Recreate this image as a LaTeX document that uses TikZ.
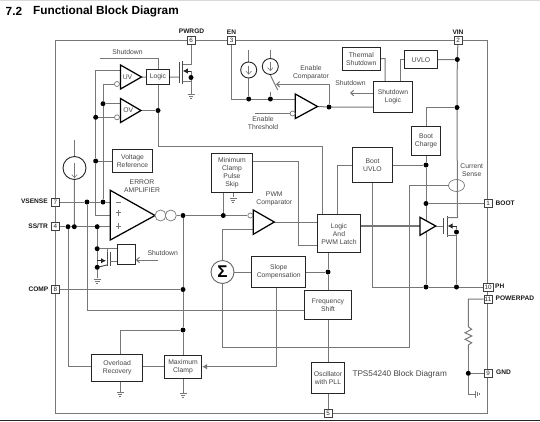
\documentclass[tikz,border=0pt]{standalone}
\usepackage{fontspec}
\setmainfont{Liberation Sans}
\usetikzlibrary{arrows.meta,backgrounds,shapes.geometric}
\definecolor{wirec}{HTML}{777777}
\definecolor{txtc}{HTML}{454545}
\tikzset{
  wire/.style={draw=wirec,line width=1pt},
  blk/.style={draw=black!85,line width=1.05pt,fill=white,align=center,inner sep=0pt,font=\fontsize{6.8}{8}\selectfont,text=txtc},
  tri/.style={draw=black,line width=1.25pt,fill=white,line join=miter},
  fetl/.style={draw=black!70,line width=1pt},
  pinb/.style={draw=black!75,line width=0.7pt,fill=white,inner sep=0pt,minimum width=8pt,minimum height=8pt,font=\fontsize{6.3}{7}\selectfont,text=black!85},
  pinl/.style={font=\bfseries\fontsize{6.6}{8}\selectfont,text=black!90,inner sep=0pt},
  lbl/.style={font=\fontsize{6.8}{8}\selectfont,text=txtc,align=center,inner sep=0pt},
  jdot/.style={circle,fill=black,inner sep=0pt,minimum size=5pt},
  bub/.style={circle,draw=wirec,line width=0.7pt,fill=white,inner sep=0pt,minimum size=5pt},
  csrc/.style={circle,draw=black!85,line width=0.9pt,fill=white,inner sep=0pt},
  barb/.style={-{Straight Barb[length=3pt,width=5.5pt]}},
  fettip/.style={draw=black!85,line width=1pt,-{Latex[length=5pt,width=5.5pt]}},
  gndsym/.pic={\draw[wirec,line width=0.7pt] (-3.5,0)--(3.5,0) (-2.3,2)--(2.3,2) (-1,4)--(1,4);}
}
\begin{document}
\begin{tikzpicture}[x=1pt,y=-1pt]
\useasboundingbox (0,0) rectangle (540,421);
\fill[black!15] (0,0) rectangle (540,1);
\fill[black!85] (0,420) rectangle (540,421);
% title
\node[anchor=west,inner sep=0pt,font=\bfseries\fontsize{11.8}{13}\selectfont] (ttlnum) at (5.5,11) {7.2};
\node[anchor=west,inner sep=0pt,font=\bfseries\fontsize{11.8}{13}\selectfont] (ttl) at (33,11) {Functional Block Diagram};
% pins
\node[pinb] (p6) at (191,40.5) {6};
\node[pinb] (p3) at (231.5,40.5) {3};
\node[pinb] (p2) at (458,40.5) {2};
\node[pinb] (p7) at (55.5,202) {7};
\node[pinb] (p4) at (55.5,226.7) {4};
\node[pinb] (p8) at (55.5,289.5) {8};
\node[pinb] (p1) at (488,203.5) {1};
\node[pinb,minimum width=10pt] (p10) at (488,287) {10};
\node[pinb,minimum width=8pt] (p11) at (488,299) {11};
\node[pinb] (p9) at (488,373.3) {9};
\node[pinb] (p5) at (328,413) {5};
\node[pinl] (lpw) at (191.5,31.5) {PWRGD};
\node[pinl] (len) at (231.5,32) {EN};
\node[pinl] (lvin) at (458,32) {VIN};
\node[pinl,anchor=east] (lvs) at (48,201.5) {VSENSE};
\node[pinl,anchor=east] (lss) at (48,226.5) {SS/TR};
\node[pinl,anchor=east] (lcomp) at (48.5,289.5) {COMP};
\node[pinl,anchor=west] (lboot) at (495.5,203.5) {BOOT};
\node[pinl,anchor=west] (lph) at (495,286) {PH};
\node[pinl,anchor=west] (lpp) at (495.5,298.5) {POWERPAD};
\node[pinl,anchor=west] (lgnd) at (496,372.5) {GND};
% blocks
\node[blk,minimum width=23pt,minimum height=15.5pt] (lg1) at (158,77.2) {Logic};
\node[blk,minimum width=40pt,minimum height=22.5pt] (vref) at (132.5,161) {Voltage\\Reference};
\node[blk,minimum width=41pt,minimum height=39pt,line width=0.95pt] (minc) at (232,173) {Minimum\\Clamp\\Pulse\\Skip};
\node[blk,minimum width=43pt,minimum height=38.5pt] (latch) at (339,233.7) {Logic\\And\\PWM Latch};
\node[blk,minimum width=39.5pt,minimum height=35pt] (buv) at (372.5,165) {Boot\\UVLO};
\node[blk,minimum width=29pt,minimum height=28.5pt] (bch) at (426,140.8) {Boot\\Charge};
\node[blk,minimum width=37.5pt,minimum height=22.5pt] (ths) at (361.3,58.8) {Thermal\\Shutdown};
\node[blk,minimum width=32.8pt,minimum height=18.5pt] (uvlo) at (421,59.7) {UVLO};
\node[blk,minimum width=39.7pt,minimum height=31pt] (sdl) at (393,97) {Shutdown\\Logic};
\node[blk,minimum width=54.5pt,minimum height=31pt] (slope) at (278.7,272) {Slope\\Compensation};
\node[blk,minimum width=46.5pt,minimum height=29.5pt] (fs) at (328,305.2) {Frequency\\Shift};
\node[blk,minimum width=32.3pt,minimum height=31.5pt] (osc) at (328,378.2) {Oscillator\\with PLL};
\node[blk,minimum width=51.5pt,minimum height=27pt] (ovr) at (117.2,368) {Overload\\Recovery};
\node[blk,minimum width=37pt,minimum height=23pt] (mxc) at (183,366.7) {Maximum\\Clamp};
\node[blk,minimum width=17.7pt,minimum height=19.5pt] (sdb) at (126.8,254.5) {};
% sigma and sources
\node[csrc,minimum size=23pt,draw=black!60] (sig) at (222.5,272) {\bfseries\fontsize{17}{17}\selectfont Σ};
\node[csrc,minimum size=23pt,fill=none] (cs1) at (74.5,168) {};
\node[csrc,minimum size=16pt,fill=none] (cs2) at (248.7,70) {};
\node[csrc,minimum size=16pt,fill=none] (cs3) at (270.3,66.5) {};
\node[draw=wirec,line width=0.7pt,ellipse,minimum width=16pt,minimum height=12pt,inner sep=0pt,fill=none] (cur) at (456.5,185.5) {};
% amp geometry
\coordinate (uvT) at (120.5,65); \coordinate (uvB) at (120.5,89); \coordinate (uvO) at (141.5,77);
\coordinate (ovT) at (120.5,98.5); \coordinate (ovB) at (120.5,122.5); \coordinate (ovO) at (141,110.5);
\coordinate (eaT) at (110.3,190.3); \coordinate (eaB) at (110.3,240); \coordinate (eaO) at (155,215.5);
\coordinate (pwT) at (253.3,210); \coordinate (pwB) at (253.3,234.3); \coordinate (pwO) at (274.3,222);
\coordinate (enT) at (295.3,94); \coordinate (enB) at (295.3,118.5); \coordinate (enO) at (317.5,106.5);
\coordinate (drT) at (420,217.3); \coordinate (drB) at (420,235.3); \coordinate (drO) at (435.7,226);
\draw[tri] (uvT)--(uvB)--(uvO)--cycle;
\draw[tri] (ovT)--(ovB)--(ovO)--cycle;
\draw[tri] (eaT)--(eaB)--(eaO)--cycle;
\draw[tri] (pwT)--(pwB)--(pwO)--cycle;
\draw[tri] (enT)--(enB)--(enO)--cycle;
\draw[tri] (drT)--(drB)--(drO)--cycle;
\node[lbl] (tuv) at (127.5,77) {UV};
\node[lbl] (tov) at (128.3,110.5) {OV};
\draw[wirec,line width=0.8pt] (115.5,202)--(120.5,202) (115.5,212.7)--(121,212.7) (118.2,209.7)--(118.2,215.7) (115.5,226.3)--(121,226.3) (118.2,223.3)--(118.2,229.3);
% bubbles
\node[bub] (bu1) at (117,84) {};
\node[bub] (bu2) at (117,117.3) {};
\node[bub] (bu3) at (250.3,215.5) {};
\node[bub] (bu4) at (292.6,113.5) {};
\node[circle,draw=wirec,line width=0.7pt,fill=white,inner sep=0pt,minimum size=11pt] (c1) at (160.5,215.5) {};
\node[circle,draw=wirec,line width=0.7pt,fill=white,inner sep=0pt,minimum size=11pt] (c2) at (170.8,215.5) {};
% dots
\node[jdot] (d1) at (158,110.5) {};
\node[jdot] (dA) at (95.7,117.3) {};
\node[jdot] (dB) at (103,103.7) {};
\node[jdot] (dC) at (95.7,161) {};
\node[jdot] (dV1) at (87,202) {};
\node[jdot] (dV2) at (103,202) {};
\node[jdot] (dS1) at (68,226.7) {};
\node[jdot] (dS2) at (74.3,226.7) {};
\node[jdot] (dS3) at (97.2,226.7) {};
\node[jdot] (dF1) at (97.2,248.7) {};
\node[jdot] (dF2) at (97.2,267.3) {};
\node[jdot] (dCo1) at (183,215.5) {};
\node[jdot] (dCo2) at (183,289.5) {};
\node[jdot] (dCo3) at (183,330) {};
\node[jdot] (dM) at (223.3,215.5) {};
\node[jdot] (dE1) at (248.7,99) {};
\node[jdot] (dE2) at (270.4,99) {};
\node[jdot] (dE3) at (329,107) {};
\node[jdot] (dU) at (457.3,59.5) {};
\node[jdot] (dVb) at (457,107.5) {};
\node[jdot] (dB1) at (426,165) {};
\node[jdot] (dB2) at (426,203.5) {};
\node[jdot] (dP1) at (426,287) {};
\node[jdot] (dP2) at (456.5,287) {};
\node[jdot] (dFs) at (328,272) {};
\node[jdot] (dQ) at (191,77.5) {};
\node[jdot] (dQ2) at (456.5,232) {};
\node[jdot] (dG) at (468.3,373.3) {};
% labels
\node[lbl] (tsd1) at (127.5,52.5) {Shutdown};
\node[lbl] (tsd2) at (162.7,252.7) {Shutdown};
\node[lbl] (tsd3) at (350.5,83) {Shutdown};
\node[lbl] (tea) at (142,186.2) {ERROR\\AMPLIFIER};
\node[lbl] (tpw) at (274.3,199) {PWM\\Comparator};
\node[lbl] (tec) at (311,72.5) {Enable\\Comparator};
\node[lbl] (tet) at (263,123.3) {Enable\\Threshold};
\node[lbl] (tcs) at (471.7,170.5) {Current\\Sense};
\node[anchor=west,inner sep=0pt,text=txtc,font=\fontsize{8.2}{10}\selectfont] (tps) at (352.3,374.5) {TPS54240 Block Diagram};
\begin{pgfonlayer}{background}
% frame
\draw[wire] (55.3,40.5) rectangle (487.7,413);
% current source arrows
\draw[wire,line width=.6pt,barb] (cs1.north)++(0,7)--++(0,15);
\draw[wire,line width=.6pt,barb] (cs2.north)++(0,4)--++(0,9);
\draw[wire,line width=.6pt,barb] (cs3.north)++(0,4)--++(0,9);
% PWRGD section
\coordinate (sdS) at (99.5,58);
\draw[wire] (sdS)--(158,58)--(lg1.north);
\draw[wire] (uvO)--(lg1.west);
\draw[wire] (lg1.south)--(d1)--(158,146)--(322.3,146)--(322.3,214.5);
\draw[wire] (ovO)--(d1);
\coordinate (gate1) at (179.5,77);
\draw[wire] (lg1.east)--(gate1);
\draw[fetl] (179.5,62)--(179.5,83) (182.5,61)--(182.5,84);
\draw[wire] (p6)--(191,64)--(182.5,64);
\draw[wire] (182.5,81)--(191,81)--(191,71);
\draw[wire] (191,71)--(dQ);
\draw[fettip] (191,71)--(182.8,71);
\draw[wire] (dQ)--(191,94);
\pic at (191,94.5) {gndsym};
% UV/OV inputs
\draw[wire] (120.5,70)--(95.7,70)--(dA)--(dC)--(95.7,215)--(110.3,215);
\draw[wire] (bu1)--(103,84)--(dB)--(dV2);
\draw[wire] (dB)--(120.5,103.7);
\draw[wire] (dA)--(bu2);
\draw[wire] (bu1)--(120.5,84) (bu2)--(120.5,117.3);
\draw[wire] (dC)--(vref.west);
% inputs
\draw[wire] (p7)--(dV1)--(dV2)--(110.3,202);
\draw[wire] (p4)--(dS1)--(dS2)--(dS3)--(110.3,226.7);
\coordinate (cs1T) at (74.5,140);
\draw[wire] (cs1T)--(cs1);
\draw[wire] (cs1)--(dS2);
\draw[wire] (dV1)--(87,310)--(305,310);
\draw[wire] (dS1)--(68,366.7)--(91.5,366.7);
\draw[wire] (dS3)--(dF1)--(dF2)--(97.2,278);
\pic at (97.2,279) {gndsym};
\draw[wire] (dF1)--(118,248.7);
\draw[fetl] (107,251)--(107,266) (110,252)--(110,266);
\draw[wire] (107,248.7)--(107,252);
\draw[fetl] (97.2,267.3)--(107,265);
\draw[fettip] (97.2,260.7)--(106,260.7);
\draw[wire] (110,261.5)--(118,261.5);
\coordinate (sdE) at (158,260);
\draw[wire,barb] (sdE)--(135.8,260);
% error amp out
\draw[wire] (c2)--(dCo1)--(dM)--(bu3);
\draw[wire] (dCo1)--(dCo2)--(dCo3)--(mxc.north);
\draw[wire] (p8)--(dCo2);
\draw[wire] (dCo3)--(120,330)--(120,354.5);
\draw[wire] (143,366.7)--(mxc.west);
\draw[wire] (120,381.5)--(120,392);
\pic at (120,392.5) {gndsym};
\draw[wire] (mxc.south)--(183,393);
\pic at (183,393.5) {gndsym};
% min clamp / PWM
\draw[wire] (223.3,192.5)--(dM);
\draw[wire] (233,192.5)--(233,197);
\pic at (233,198) {gndsym};
\draw[wire] (252.5,161)--(298,161)--(298,245)--(317.5,245);
\draw[wire] (pwO)--(317.5,222);
\draw[wire] (sig)--(222.5,229.5)--(253.3,229.5);
\draw[wire] (sig)--(slope.west);
\draw[wire] (sig)--(222.5,347.5)--(409.3,347.5)--(409.3,185.5)--(cur);
% slope / fs
\draw[wire] (slope.east)--(dFs);
\draw[wire] (328,253)--(dFs)--(fs.north);
\draw[wire] (fs.south)--(osc.north);
\draw[wire] (osc.south)--(p5);
\draw[wire,-{Latex[length=5pt,width=5.5pt]}] (276,287)--(276,366.7)--(mxc.east);
% boot
\draw[wire] (buv.west)--(337,165)--(337,214.5);
\draw[wire] (buv.east)--(dB1);
\draw[wire] (buv.south)--(372.5,287)--(dP1)--(dP2)--(p10);
\draw[wire] (dVb)--(426,107.5)--(bch.north);
\draw[wire] (bch.south)--(dB1)--(dB2)--(426,220);
\draw[wire] (426,232)--(dP1);
\draw[wire] (dB2)--(p1);
\draw[wire,line width=1.3pt] (latch.east |- drO)--(drT |- drO);
% high side FET
\draw[wire] (drO)--(443.3,226);
\draw[fetl] (443.3,218)--(443.3,234) (447,215.5)--(447,236.5);
\draw[wire] (p2)--(dU)--(dVb)--(457.5,217.5)--(447,217.5);
\draw[wire] (447,235)--(456.5,235);
\draw[wire] (456.5,226)--(dQ2)--(dP2);
\draw[fettip] (456.5,226)--(447.5,226);
% shutdown logic
\draw[wire] (uvlo.east)--(dU);
\draw[wire] (ths.east)--(385,58.5)--(385,81.5);
\draw[wire] (uvlo.west)--(400.5,59.7)--(400.5,81.5);
\draw[wire,barb] (373,93)--(350,93);
\draw[wire] (enO)--(dE3)--(373.2,107);
\draw[wire,barb] (dE3)--(329,84.3)--(276,84.3);
% enable
\draw[wire] (p3)--(231.5,99)--(dE1)--(dE2)--(295.3,99);
\coordinate (c2T) at (248.7,50);
\coordinate (c3T) at (270.3,50);
\draw[wire] (c2T)--(cs2);
\draw[wire] (cs2)--(dE1);
\draw[wire] (c3T)--(cs3);
\draw[wire] (cs3.south)--(277.7,90);
\draw[wire] (dE2)--(270.4,92);
\coordinate (thS) at (255,113.5);
\draw[wire] (thS)--(bu4);
\draw[wire] (bu4)--(295.3,113.5);
% powerpad
\draw[wire] (p11)--(468.3,299)--(468.3,326.7)--(471.7,329.3)--(465,332.7)--(471.7,336)--(465,339.3)--(471.7,342.7)--(468.3,345)--(468.3,350);
\draw[wire] (468.3,350)--(dG);
\draw[wire] (dG)--(p9);
\draw[wire] (dG)--(468.3,394)--(475,394);
\draw[wirec,line width=.7pt] (475,390.5)--(475,397.5) (477,392)--(477,396) (479,393.2)--(479,394.8);
\end{pgfonlayer}
\end{tikzpicture}
\end{document}
